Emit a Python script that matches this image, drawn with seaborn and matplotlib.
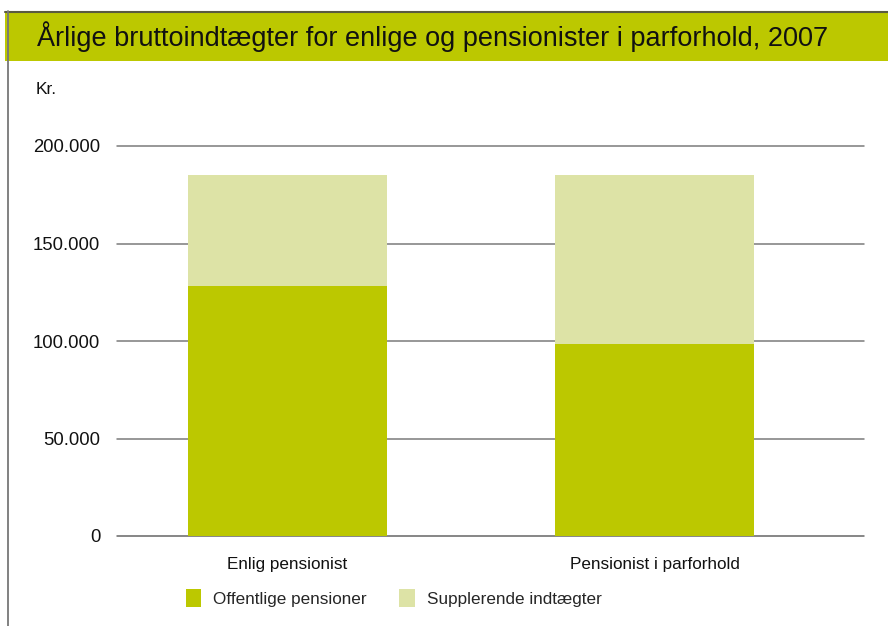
import matplotlib
matplotlib.use("Agg")
import matplotlib.pyplot as plt
import seaborn as sns
import pandas as pd
from matplotlib.patches import Rectangle
from matplotlib.lines import Line2D

categories = ["Enlig pensionist", "Pensionist i parforhold"]
offentlige = [128000, 98500]
supplerende = [57000, 86500]
series_names = ["Offentlige pensioner", "Supplerende indtægter"]
yticks = [0, 50000, 100000, 150000, 200000]
ytick_labels = ["0", "50.000", "100.000", "150.000", "200.000"]
title = "Årlige bruttoindtægter for enlige og pensionister i parforhold, 2007"

dark = "#BCC800"
light = "#DDE3A6"

sns.set_theme(style="white")
plt.rcParams["font.family"] = ["Liberation Sans", "DejaVu Sans"]

df = pd.DataFrame({
    "kategori": categories,
    "offentlige": offentlige,
    "total": [o + s for o, s in zip(offentlige, supplerende)],
})

W, H = 888, 626
fig = plt.figure(figsize=(W / 100, H / 100), dpi=100)
ax = fig.add_axes([117 / W, 1 - 536 / H, (864 - 117) / W, (536 - 146) / H])

sns.barplot(data=df, x="kategori", y="total", color=light, saturation=1,
            width=0.542, ax=ax, zorder=3, linewidth=0, edgecolor="none")
sns.barplot(data=df, x="kategori", y="offentlige", color=dark, saturation=1,
            width=0.542, ax=ax, zorder=4, linewidth=0, edgecolor="none")

ax.set_xlim(-0.465, 1.571)
ax.set_ylim(0, 200000)
ax.set_yticks(yticks)
ax.set_yticklabels(ytick_labels, fontsize=13.3, color="#111111")
for y in yticks:
    ax.axhline(y, color="#666666" if y == 0 else "#7a7a7a", lw=1.1, zorder=2, clip_on=False)
for s in ax.spines.values():
    s.set_visible(False)
ax.tick_params(axis="y", length=0, pad=12)
ax.tick_params(axis="x", length=0, pad=15, labelsize=12.3, labelcolor="#111111")
ax.set_xlabel("")
ax.set_ylabel("")

# Title band
fig.patches.append(Rectangle((5 / W, 1 - 61 / H), 1, 50 / H, transform=fig.transFigure,
                             facecolor=dark, edgecolor="none", zorder=0))
fig.lines.append(Line2D([5 / W, 1], [1 - 11.5 / H, 1 - 11.5 / H], transform=fig.transFigure,
                        color="#5a5a40", lw=1.5))
fig.lines.append(Line2D([8 / W, 8 / W], [1 - 11 / H, 0], transform=fig.transFigure,
                        color="#777777", lw=1.3))
fig.text(37 / W, 1 - 37 / H, title, fontsize=19.5, color="#111111", va="center", ha="left")
fig.text(36 / W, 1 - 90 / H, "Kr.", fontsize=12.5, color="#111111", va="center", ha="left")

# Legend
handles = [Rectangle((0, 0), 1, 1, facecolor=c, edgecolor="none") for c in (dark, light)]
fig.legend(handles, series_names, loc="center left", bbox_to_anchor=(186 / W, 1 - 598 / H),
           ncol=2, frameon=False, fontsize=12.3, handlelength=0.9, handleheight=1.2,
           handletextpad=0.7, columnspacing=1.9, borderaxespad=0, borderpad=0)

fig.savefig("out.png", dpi=100)
